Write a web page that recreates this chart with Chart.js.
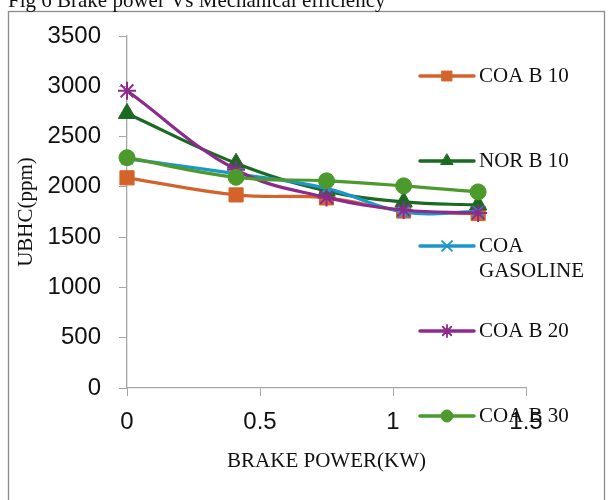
<!DOCTYPE html>
<html>
<head>
<meta charset="utf-8">
<style>
  html, body { margin: 0; padding: 0; background: #ffffff; }
  #wrap { width: 608px; height: 500px; }
</style>
<script src="https://cdn.jsdelivr.net/npm/chart.js@4.4.1/dist/chart.umd.min.js"></script>
</head>
<body>
<div id="wrap"><canvas id="c" width="608" height="500"></canvas></div>
<script>
// ---- data ----
const figureTitle = 'Fig 6 Brake power Vs Mechanical efficiency';
const xAxisTitle = 'BRAKE POWER(KW)';
const yAxisTitle = 'UBHC(ppm)';
const brakePower = [0, 0.41, 0.75, 1.04, 1.32];
const seriesNames = ['COA B 10', 'NOR B 10', 'COA GASOLINE', 'COA B 20', 'COA B 30'];
const coaB10 = [2090, 1920, 1890, 1760, 1735];
const norB10 = [2730, 2235, 1960, 1850, 1820];
const coaGasoline = [2280, 2130, 1985, 1750, 1755];
const coaB20 = [2955, 2170, 1895, 1770, 1740];
const coaB30 = [2290, 2095, 2060, 2010, 1950];
const xTicks = [0, 0.5, 1, 1.5];
const yTicks = [0, 500, 1000, 1500, 2000, 2500, 3000, 3500];

// ---- styles ----
const colors = ['#D4632B', '#1B6A22', '#1C97CB', '#8E2A8C', '#4B9A2B'];
const markers = ['rect', 'triangle', 'crossRot', 'star', 'circle'];
const markerRadius = [10, 10, 8, 9, 8];
const legendRadius = [7, 7, 7, 6, 6];
const seriesValues = [coaB10, norB10, coaGasoline, coaB20, coaB30];

const datasets = seriesNames.map((name, i) => ({
  label: name,
  data: brakePower.map((x, j) => ({ x: x, y: seriesValues[i][j] })),
  borderColor: colors[i],
  backgroundColor: colors[i],
  pointBackgroundColor: colors[i],
  pointBorderColor: colors[i],
  pointStyle: markers[i],
  pointRadius: markerRadius[i],
  pointHoverRadius: markerRadius[i],
  pointBorderWidth: (markers[i] === 'crossRot' || markers[i] === 'star') ? 2 : 1,
  borderWidth: 3.2,
  tension: 0.4,
  fill: false,
  clip: false,
  order: seriesNames.length - 1 - i
}));

const serif = "'Liberation Serif', 'Times New Roman', serif";
const sans = "'Liberation Sans', Arial, sans-serif";

const framePlugin = {
  id: 'frame',
  beforeDraw(chart) {
    const ctx = chart.ctx;
    ctx.save();
    ctx.fillStyle = '#ffffff';
    ctx.fillRect(0, 0, chart.width, chart.height);
    ctx.strokeStyle = '#8c8c8c';
    ctx.lineWidth = 1.3;
    ctx.strokeRect(8.5, 11.5, 596, 520);
    ctx.restore();
  },
  afterDraw(chart) {
    const ctx = chart.ctx;
    ctx.save();
    // figure caption (cut by the top edge as in the reference)
    ctx.fillStyle = '#111111';
    ctx.font = '21px ' + serif;
    ctx.textAlign = 'left';
    ctx.textBaseline = 'alphabetic';
    ctx.fillText(figureTitle, 8, 7);

    // legend
    const lineX0 = 420, lineX1 = 474, textX = 479, maxW = 122;
    const y0 = 76, step = 85;
    chart.data.datasets.forEach((ds, i) => {
      const y = y0 + step * i;
      ctx.strokeStyle = ds.borderColor;
      ctx.lineWidth = 3.5;
      ctx.lineCap = 'round';
      ctx.beginPath();
      ctx.moveTo(lineX0, y);
      ctx.lineTo(lineX1, y);
      ctx.stroke();
      ctx.fillStyle = ds.borderColor;
      ctx.strokeStyle = ds.borderColor;
      ctx.lineWidth = (ds.pointStyle === 'crossRot' || ds.pointStyle === 'star') ? 1.8 : 1;
      if (Chart.helpers && Chart.helpers.drawPoint) {
        Chart.helpers.drawPoint(ctx, { pointStyle: ds.pointStyle, radius: legendRadius[i], rotation: 0, borderWidth: ctx.lineWidth }, (lineX0 + lineX1) / 2, y);
      }
      // label with word wrap
      ctx.font = '21px ' + serif;
      ctx.fillStyle = '#111111';
      ctx.textBaseline = 'middle';
      const words = ds.label.split(' ');
      const lines = [];
      let cur = '';
      words.forEach(w => {
        const t = cur ? cur + ' ' + w : w;
        if (ctx.measureText(t).width > maxW && cur) { lines.push(cur); cur = w; }
        else cur = t;
      });
      lines.push(cur);
      lines.forEach((ln, k) => ctx.fillText(ln, textX, y + k * 25));
    });
    ctx.restore();
  }
};

new Chart(document.getElementById('c'), {
  type: 'line',
  data: { datasets: datasets },
  options: {
    responsive: false,
    animation: false,
    devicePixelRatio: 1,
    layout: { padding: { left: 0, top: 36, right: 82, bottom: 0 } },
    plugins: { legend: { display: false }, tooltip: { enabled: false }, title: { display: false } },
    scales: {
      x: {
        type: 'linear',
        min: 0, max: 1.5,
        afterBuildTicks(scale) { scale.ticks = xTicks.map(v => ({ value: v })); },
        afterFit(scale) { scale.height = 112; },
        grid: { drawOnChartArea: false, drawTicks: true, tickLength: 8, color: '#a6a6a6', tickColor: '#a6a6a6' },
        border: { display: true, color: '#a6a6a6', width: 1.3 },
        ticks: { color: '#111111', font: { family: sans, size: 24 }, padding: 12, maxRotation: 0,
          callback: (v) => String(v) },
        title: { display: true, text: xAxisTitle, color: '#111111', font: { family: serif, size: 21 }, padding: { top: 0, bottom: 26 } }
      },
      y: {
        type: 'linear',
        min: 0, max: 3500,
        afterBuildTicks(scale) { scale.ticks = yTicks.map(v => ({ value: v })); },
        afterFit(scale) { scale.width = 127; },
        grid: { drawOnChartArea: false, drawTicks: true, tickLength: 8, color: '#a6a6a6', tickColor: '#a6a6a6' },
        border: { display: true, color: '#a6a6a6', width: 1.3 },
        ticks: { color: '#111111', font: { family: sans, size: 24 }, padding: 18,
          callback: (v) => String(v) },
        title: { display: true, text: yAxisTitle, color: '#111111', font: { family: serif, size: 21 }, padding: { top: 14, bottom: 0 } }
      }
    }
  },
  plugins: [framePlugin]
});
</script>
</body>
</html>
